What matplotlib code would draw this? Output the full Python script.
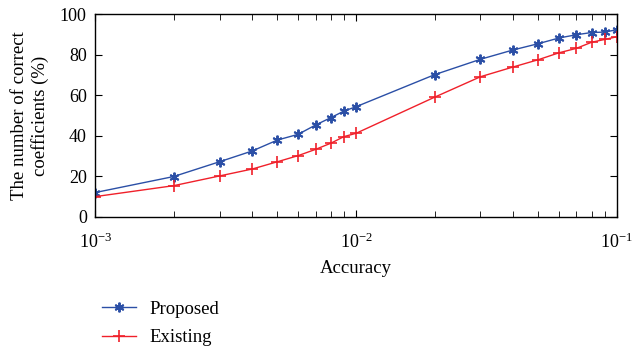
import matplotlib
matplotlib.use("Agg")
import matplotlib.pyplot as plt
from matplotlib.ticker import LogLocator, NullFormatter

plt.rcParams["font.family"] = ["Liberation Serif", "DejaVu Serif"]

accuracy = [0.001, 0.002, 0.003, 0.004, 0.005, 0.006, 0.007, 0.008, 0.009, 0.01,
            0.02, 0.03, 0.04, 0.05, 0.06, 0.07, 0.08, 0.09, 0.1]
proposed = [12, 19.9, 27.2, 32.5, 37.9, 40.7, 45.3, 48.9, 52.2, 54.3,
            70.1, 77.7, 82.3, 85.4, 88.2, 89.8, 90.9, 91.1, 92.3]
existing = [10, 15.4, 20.2, 23.6, 27.2, 30.2, 33.3, 36.3, 39.6, 41.2,
            59, 69.1, 73.9, 77.5, 80.9, 83.1, 86.1, 87.5, 88.8]

fig = plt.figure(figsize=(6.34, 3.51), dpi=100)
ax = fig.add_axes([0.15, 0.382, 0.823, 0.578])

ax.plot(accuracy, proposed, color="#2b4fa6", marker=(6, 2, 0), markersize=7,
        markeredgewidth=1.4, linewidth=1.0, label="Proposed")
ax.plot(accuracy, existing, color="#f0202a", marker="+", markersize=8,
        markeredgewidth=1.2, linewidth=1.0, label="Existing")

ax.set_xscale("log")
ax.set_xlim(1e-3, 1e-1)
ax.set_ylim(0, 100)
ax.set_yticks([0, 20, 40, 60, 80, 100])
ax.xaxis.set_minor_locator(LogLocator(base=10, subs=range(2, 10)))
ax.xaxis.set_minor_formatter(NullFormatter())
ax.tick_params(which="both", direction="in", top=True, right=True, labelsize=13)
ax.tick_params(axis="y", which="major", length=5, pad=6)
ax.tick_params(axis="x", which="major", length=5, pad=11)
ax.tick_params(which="minor", length=4)
for s in ax.spines.values():
    s.set_linewidth(1.0)

ax.set_xlabel("Accuracy", fontsize=13.5, labelpad=6)
ax.set_ylabel("The number of correct\ncoefficients (%)", fontsize=13.5, labelpad=8)

fig.legend(loc="lower left", bbox_to_anchor=(0.135, -0.035), frameon=False,
           fontsize=13.5, handlelength=1.8, handletextpad=0.7, labelspacing=0.6)

fig.savefig("out.png", dpi=100)
